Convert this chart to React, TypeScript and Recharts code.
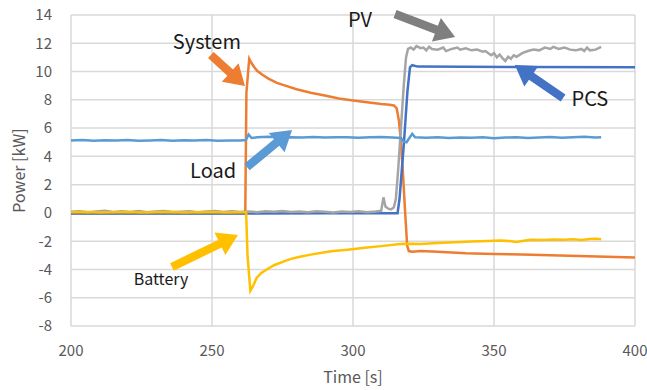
import {
  CartesianGrid,
  Line,
  LineChart,
  ReferenceDot,
  ReferenceLine,
  XAxis,
  YAxis,
} from "recharts";

// [time s, power kW]
const load: [number, number][] = [
  [200, 5.12], [204, 5.15], [208, 5.1], [212, 5.14], [216, 5.12], [220, 5.16], [224, 5.11],
  [228, 5.13], [232, 5.15], [236, 5.1], [240, 5.14], [244, 5.12], [248, 5.15], [252, 5.11],
  [256, 5.13], [260, 5.12], [262, 5.15], [263, 5.55], [264, 5.3], [266, 5.35], [270, 5.38],
  [274, 5.33], [278, 5.36], [282, 5.34], [286, 5.37], [290, 5.33], [294, 5.35], [298, 5.36],
  [302, 5.32], [306, 5.35], [310, 5.37], [314, 5.34], [317, 5.3], [318, 5.05], [319, 5.0],
  [320, 5.3], [321, 5.6], [322, 5.35], [326, 5.32], [330, 5.36], [334, 5.3], [338, 5.34],
  [342, 5.31], [346, 5.35], [350, 5.28], [354, 5.33], [358, 5.36], [362, 5.3], [366, 5.34],
  [370, 5.37], [374, 5.32], [378, 5.35], [382, 5.38], [386, 5.33], [388, 5.36],
];

const pcs: [number, number][] = [
  [200, -0.05], [240, -0.04], [262, -0.05], [290, -0.03], [315.8, -0.02], [316.5, 1.0],
  [318, 4.8], [319.3, 8.6], [320.2, 10.3], [321, 10.45], [323, 10.35], [360, 10.32], [400, 10.3],
];

const pv: [number, number][] = [
  [200, 0.08], [203, 0.12], [206, 0.05], [209, 0.1], [212, 0.15], [215, 0.06], [218, 0.11],
  [221, 0.07], [224, 0.13], [227, 0.05], [230, 0.1], [233, 0.14], [236, 0.06], [239, 0.09],
  [242, 0.12], [245, 0.05], [248, 0.1], [251, 0.13], [254, 0.07], [257, 0.11], [260, 0.06],
  [263, 0.1], [266, 0.05], [269, 0.12], [272, 0.08], [275, 0.14], [278, 0.06], [281, 0.1],
  [284, 0.05], [287, 0.12], [290, 0.08], [293, 0.03], [296, 0.1], [299, 0.07], [302, 0.12],
  [305, 0.05], [308, 0.1], [310, 0.15], [310.8, 1.1], [311.5, 0.45], [312.5, 0.3],
  [313.5, 0.25], [314.5, 0.4], [315.2, 1.0], [316, 3.0], [317, 6.0], [318, 9.0], [318.8, 11.0],
  [319.5, 11.6], [320.5, 11.7], [321.5, 11.55], [322.5, 11.8], [324, 11.65], [325, 11.7],
  [326, 11.5], [327, 11.75], [328, 11.6], [330, 11.55], [332, 11.7], [333, 11.45], [335, 11.6],
  [337, 11.7], [338, 11.55], [340, 11.65], [342, 11.5], [344, 11.55], [346, 11.4], [347, 11.45],
  [348, 11.3], [349, 11.15], [350, 11.3], [351, 11.0], [352, 11.2], [353, 10.95], [354, 10.75],
  [355, 11.05], [356, 10.9], [357, 11.15], [358, 11.05], [360, 11.3], [362, 11.45], [364, 11.55],
  [366, 11.5], [368, 11.7], [370, 11.6], [371, 11.75], [373, 11.6], [375, 11.7], [377, 11.55],
  [379, 11.5], [381, 11.6], [382, 11.45], [383, 11.7], [384, 11.5], [386, 11.55], [388, 11.75],
];

const system: [number, number][] = [
  [200, -0.02], [230, -0.03], [261.8, -0.02], [262.2, 8.5], [263.2, 10.9], [264, 10.6],
  [265, 10.3], [266, 10.05], [268, 9.75], [270, 9.5], [273, 9.2], [276, 9.0], [280, 8.75],
  [285, 8.5], [290, 8.3], [295, 8.1], [300, 7.95], [305, 7.82], [310, 7.7], [313, 7.65],
  [314.5, 7.6], [315.5, 7.4], [316.3, 6.5], [317, 5.0], [317.8, 2.5], [318.5, 0.0],
  [319.2, -2.3], [319.8, -2.7], [321, -2.75], [324, -2.7], [330, -2.75], [340, -2.85],
  [350, -2.9], [360, -2.95], [370, -3.0], [380, -3.05], [390, -3.1], [400, -3.15],
];

const battery: [number, number][] = [
  [200, 0.04], [205, 0.06], [210, 0.03], [215, 0.05], [220, 0.07], [225, 0.03], [230, 0.05],
  [235, 0.06], [240, 0.03], [245, 0.05], [250, 0.06], [255, 0.03], [260, 0.05], [262.1, 0.04],
  [262.6, -3.0], [263.6, -5.5], [264.5, -5.2], [265.8, -4.6], [267.5, -4.25], [269.4, -4.0],
  [272, -3.7], [275.3, -3.45], [278, -3.25], [281.2, -3.1], [285, -2.95], [290, -2.78],
  [293, -2.7], [298, -2.6], [305, -2.45], [310, -2.35], [316.7, -2.2], [320, -2.18],
  [324, -2.2], [330, -2.12], [336, -2.08], [342, -2.02], [348, -1.98], [352, -1.95],
  [356, -2.0], [358, -2.05], [360, -1.98], [363, -1.9], [367, -1.92], [371, -1.88],
  [375, -1.9], [378, -1.86], [381, -1.92], [384, -1.85], [386, -1.83], [388, -1.87],
];

const xTicks = [200, 250, 300, 350, 400];
const yTicks = [-8, -6, -4, -2, 0, 2, 4, 6, 8, 10, 12, 14];

const rows = (pts: [number, number][]) => pts.map(([t, v]) => ({ t, v }));

const FONT = '"Noto Sans CJK JP", "Noto Sans", sans-serif';

// callouts: [time, kW] for arrow tail, arrow tip and text baseline
const notes = [
  { text: "System", color: "#ED7D31", tail: [249.6, 11.17], tip: [261.7, 8.98], at: [248.2, 11.6], size: 20 },
  { text: "PV", color: "#7F7F7F", tail: [314.9, 14.07], tip: [336.2, 12.45], at: [302.5, 13.15], size: 20 },
  { text: "PCS", color: "#4472C4", tail: [374.5, 8.13], tip: [357.4, 10.47], at: [384, 7.57], size: 20 },
  { text: "Load", color: "#5B9BD5", tail: [262.4, 3.25], tip: [278.4, 5.87], at: [250.4, 2.48], size: 20 },
  { text: "Battery", color: "#FFC000", tail: [235.8, -3.82], tip: [259.2, -1.56], at: [231.9, -5.09], size: 16 },
];

function BlockArrow(p: any) {
  const { x1, y1, x2, y2, color } = p;
  const dx = x2 - x1;
  const dy = y2 - y1;
  const len = Math.hypot(dx, dy) || 1;
  const ux = dx / len;
  const uy = dy / len;
  const nx = -uy;
  const ny = ux;
  const head = Math.min(20, len * 0.55);
  const w = 4.2;
  const W = 12.5;
  const bx = x2 - ux * head;
  const by = y2 - uy * head;
  const pts = [
    [x1 + nx * w, y1 + ny * w],
    [bx + nx * w, by + ny * w],
    [bx + nx * W, by + ny * W],
    [x2, y2],
    [bx - nx * W, by - ny * W],
    [bx - nx * w, by - ny * w],
    [x1 - nx * w, y1 - ny * w],
  ];
  return <polygon points={pts.map((q) => q.join(",")).join(" ")} fill={color} />;
}

function YTitle({ viewBox }: any) {
  const x = viewBox.x + 18;
  const y = viewBox.y + viewBox.height / 2;
  return (
    <text x={x} y={y} transform={`rotate(-90 ${x} ${y})`} textAnchor="middle" dominantBaseline="central"
      fill="#595959" fontSize={16} fontFamily={FONT}>
      Power [kW]
    </text>
  );
}

function XTitle({ viewBox }: any) {
  return (
    <text x={viewBox.x + viewBox.width / 2} y={viewBox.y + 57} textAnchor="middle"
      fill="#595959" fontSize={16} fontFamily={FONT}>
      Time [s]
    </text>
  );
}

export default function App() {
  const tick = { fill: "#595959", fontSize: 15, fontFamily: FONT };
  const lw = 2.5;
  return (
    <div style={{ position: "absolute", left: 0, top: 0, background: "#fff" }}>
      <LineChart width={647} height={390} margin={{ top: 15, right: 12, bottom: 0, left: 0 }}>
        <CartesianGrid stroke="#D9D9D9" strokeWidth={1.5} />
        <XAxis dataKey="t" type="number" domain={[200, 400]} ticks={xTicks} allowDataOverflow
          height={64} tickSize={0} tickMargin={19} axisLine={false} tick={tick} label={<XTitle />} />
        <YAxis type="number" domain={[-8, 14]} ticks={yTicks} allowDataOverflow width={71}
          tickSize={0} tickMargin={19} axisLine={false} tick={tick} label={<YTitle />} />
        <Line data={rows(system)} dataKey="v" type="linear" dot={false} stroke="#ED7D31" strokeWidth={lw} isAnimationActive={false} />
        <Line data={rows(pcs)} dataKey="v" type="linear" dot={false} stroke="#4472C4" strokeWidth={lw} isAnimationActive={false} />
        <Line data={rows(pv)} dataKey="v" type="linear" dot={false} stroke="#A5A5A5" strokeWidth={lw} isAnimationActive={false} />
        <Line data={rows(battery)} dataKey="v" type="linear" dot={false} stroke="#FFC000" strokeWidth={lw} isAnimationActive={false} />
        <Line data={rows(load)} dataKey="v" type="linear" dot={false} stroke="#5B9BD5" strokeWidth={lw} isAnimationActive={false} />
        {notes.map((n) => (
          <ReferenceLine key={n.text + "-arrow"} ifOverflow="visible"
            segment={[{ x: n.tail[0], y: n.tail[1] }, { x: n.tip[0], y: n.tip[1] }]}
            shape={(p: any) => <BlockArrow {...p} color={n.color} />} />
        ))}
        {notes.map((n) => (
          <ReferenceDot key={n.text} x={n.at[0]} y={n.at[1]} r={0} ifOverflow="visible"
            shape={(p: any) => (
              <text x={p.cx} y={p.cy} textAnchor="middle" fill="#1A1A1A" fontSize={n.size} fontFamily={FONT}>
                {n.text}
              </text>
            )} />
        ))}
      </LineChart>
    </div>
  );
}
